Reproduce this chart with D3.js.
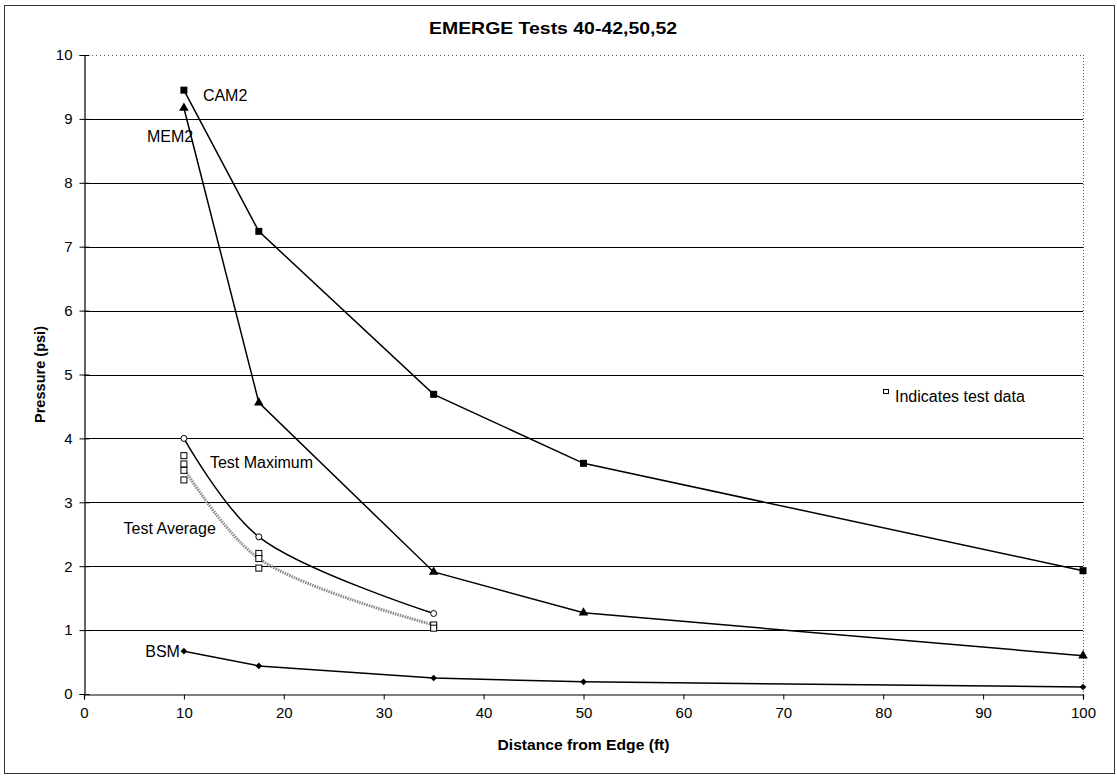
<!DOCTYPE html>
<html>
<head>
<meta charset="utf-8">
<script src="https://cdn.jsdelivr.net/npm/d3@7"></script>
<style>
  html, body { margin: 0; padding: 0; background: #fff; }
  svg { display: block; font-family: "Liberation Sans", Arial, sans-serif; }
</style>
</head>
<body>
<svg id="chart" width="1117" height="777"></svg>
<script>
// Pressure vs. distance from edge, EMERGE tests
const distances = [10, 17.5, 35, 50, 100];
const cam2 = [9.45, 7.24, 4.69, 3.61, 1.93];
const mem2 = [9.17, 4.56, 1.91, 1.27, 0.60];
const bsm  = [0.67, 0.44, 0.25, 0.19, 0.11];

const testDistances = [10, 17.5, 35];
const testMaximum = [4.00, 2.46, 1.26];
const testAverage = [3.53, 2.12, 1.08];

// individual test readings
const testDataX = [10, 10, 10, 10, 17.5, 17.5, 17.5, 35, 35];
const testDataY = [3.73, 3.60, 3.50, 3.35, 2.20, 2.12, 1.97, 1.08, 1.03];

const xTicks = [0, 10, 20, 30, 40, 50, 60, 70, 80, 90, 100];
const yTicks = [0, 1, 2, 3, 4, 5, 6, 7, 8, 9, 10];

const svg = d3.select("#chart");

const x = d3.scaleLinear().domain([0, 100]).range([84, 1083]);
const y = d3.scaleLinear().domain([0, 10]).range([694, 55]);

// outer frame
svg.append("rect")
  .attr("x", 4.5).attr("y", 5.5).attr("width", 1110).attr("height", 768)
  .attr("fill", "none").attr("stroke", "#333").attr("stroke-width", 1);

// title
svg.append("text")
  .attr("x", 553).attr("y", 34)
  .attr("text-anchor", "middle")
  .attr("font-size", 17).attr("font-weight", "bold")
  .attr("textLength", 248).attr("lengthAdjust", "spacingAndGlyphs")
  .text("EMERGE Tests 40-42,50,52");

// horizontal gridlines
svg.append("g").selectAll("line")
  .data(yTicks.filter(d => d > 0 && d < 10))
  .join("line")
  .attr("x1", x(0)).attr("x2", x(100))
  .attr("y1", d => Math.round(y(d)) + 0.5).attr("y2", d => Math.round(y(d)) + 0.5)
  .attr("stroke", "#000").attr("stroke-width", 1);

// dotted top and right plot edges
svg.append("line")
  .attr("x1", x(0)).attr("x2", x(100))
  .attr("y1", Math.round(y(10)) + 0.5).attr("y2", Math.round(y(10)) + 0.5)
  .attr("stroke", "#555").attr("stroke-dasharray", "1,3");
svg.append("line")
  .attr("x1", Math.round(x(100)) + 0.5).attr("x2", Math.round(x(100)) + 0.5)
  .attr("y1", y(10)).attr("y2", y(0))
  .attr("stroke", "#555").attr("stroke-dasharray", "1,2");

// axes
const xAxis = d3.axisBottom(x).tickValues(xTicks).tickSize(5).tickPadding(8).tickFormat(d3.format("d"));
const yAxis = d3.axisLeft(y).tickValues(yTicks).tickSize(5).tickPadding(7).tickFormat(d3.format("d"));

const gx = svg.append("g").attr("transform", `translate(0,${Math.round(y(0)) + 0.5})`).call(xAxis);
const gy = svg.append("g").attr("transform", `translate(${Math.round(x(0)) + 0.5},0)`).call(yAxis);
[gx, gy].forEach(g => {
  g.select(".domain").attr("stroke", "#000").attr("stroke-width", 1.2);
  g.selectAll(".tick line").attr("stroke", "#000");
  g.selectAll(".tick text").attr("font-size", 15).attr("fill", "#000")
    .attr("font-family", "\"Liberation Sans\", Arial, sans-serif");
});
// y ticks cross the axis line
gy.selectAll(".tick line").attr("x1", 5);

// axis titles
svg.append("text")
  .attr("x", x(50)).attr("y", 750)
  .attr("text-anchor", "middle")
  .attr("font-size", 15).attr("font-weight", "bold")
  .attr("textLength", 172).attr("lengthAdjust", "spacingAndGlyphs")
  .text("Distance from Edge (ft)");
svg.append("text")
  .attr("transform", `translate(45,${(y(0) + y(10)) / 2}) rotate(-90)`)
  .attr("text-anchor", "middle")
  .attr("font-size", 14).attr("font-weight", "bold")
  .attr("textLength", 97).attr("lengthAdjust", "spacingAndGlyphs")
  .text("Pressure (psi)");

const straight = d3.line().x(d => x(d[0])).y(d => y(d[1]));
const smooth = d3.line().x(d => x(d[0])).y(d => y(d[1])).curve(d3.curveCatmullRom.alpha(0.5));

const zip = (xs, ys) => xs.map((v, i) => [v, ys[i]]);

// test average (grey dotted, smoothed)
svg.append("path")
  .datum(zip(testDistances, testAverage))
  .attr("d", smooth)
  .attr("fill", "none").attr("stroke", "#8a8a8a").attr("stroke-width", 3)
  .attr("stroke-dasharray", "1.5,1");

// test maximum (black, smoothed)
svg.append("path")
  .datum(zip(testDistances, testMaximum))
  .attr("d", smooth)
  .attr("fill", "none").attr("stroke", "#000").attr("stroke-width", 1.5);

// model curves
[cam2, mem2, bsm].forEach(vals => {
  svg.append("path")
    .datum(zip(distances, vals))
    .attr("d", straight)
    .attr("fill", "none").attr("stroke", "#000").attr("stroke-width", 1.5);
});

// CAM2 square markers
svg.append("g").selectAll("rect")
  .data(zip(distances, cam2)).join("rect")
  .attr("x", d => x(d[0]) - 3.5).attr("y", d => y(d[1]) - 3.5)
  .attr("width", 7).attr("height", 7).attr("fill", "#000");

// MEM2 triangle markers
svg.append("g").selectAll("path")
  .data(zip(distances, mem2)).join("path")
  .attr("transform", d => `translate(${x(d[0])},${y(d[1])})`)
  .attr("d", d3.symbol(d3.symbolTriangle, 40))
  .attr("fill", "#000");

// BSM diamond markers
svg.append("g").selectAll("path")
  .data(zip(distances, bsm)).join("path")
  .attr("transform", d => `translate(${x(d[0])},${y(d[1])}) rotate(45)`)
  .attr("d", d3.symbol(d3.symbolSquare, 22))
  .attr("fill", "#000");

// test data readings (open squares)
svg.append("g").selectAll("rect")
  .data(zip(testDataX, testDataY)).join("rect")
  .attr("x", d => x(d[0]) - 3).attr("y", d => y(d[1]) - 3)
  .attr("width", 6).attr("height", 6)
  .attr("fill", "#fff").attr("stroke", "#000").attr("stroke-width", 1);

// test maximum markers (open circles)
svg.append("g").selectAll("circle")
  .data(zip(testDistances, testMaximum)).join("circle")
  .attr("cx", d => x(d[0])).attr("cy", d => y(d[1])).attr("r", 3)
  .attr("fill", "#fff").attr("stroke", "#000").attr("stroke-width", 1);

// series labels, placed relative to a point of their series
const labels = [
  { text: "CAM2", px: 10, py: cam2[0], dx: 19, dy: 11, anchor: "start" },
  { text: "MEM2", px: 10, py: mem2[0], dx: -37, dy: 34, anchor: "start" },
  { text: "Test Maximum", px: 10, py: testMaximum[0], dx: 26, dy: 30, anchor: "start" },
  { text: "Test Average", px: 17.5, py: testMaximum[1], dx: -43, dy: -3, anchor: "end" },
  { text: "BSM", px: 10, py: bsm[0], dx: -4, dy: 6, anchor: "end" }
];
svg.append("g").selectAll("text")
  .data(labels).join("text")
  .attr("x", d => x(d.px) + d.dx).attr("y", d => y(d.py) + d.dy)
  .attr("text-anchor", d => d.anchor)
  .attr("font-size", 16)
  .text(d => d.text);

// note
svg.append("rect")
  .attr("x", 883.5).attr("y", 389.5).attr("width", 5).attr("height", 4)
  .attr("fill", "#fff").attr("stroke", "#000").attr("stroke-width", 1);
svg.append("text")
  .attr("x", 895).attr("y", 402)
  .attr("font-size", 16)
  .text("Indicates test data");
</script>
</body>
</html>
